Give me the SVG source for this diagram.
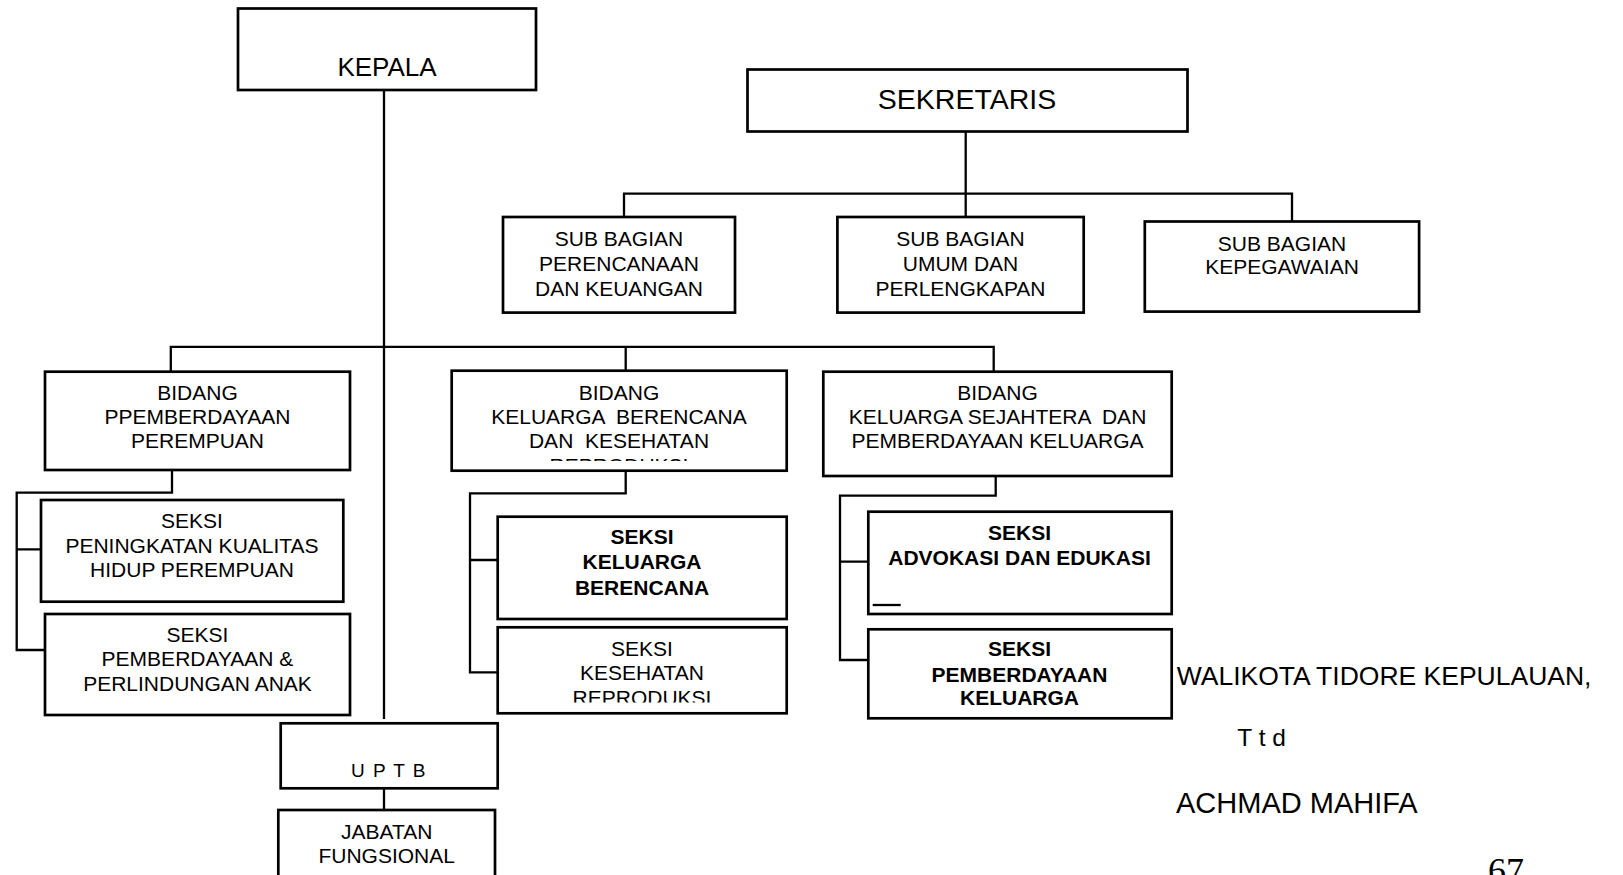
<svg xmlns="http://www.w3.org/2000/svg" width="1623" height="875" viewBox="0 0 1623 875">
<style>
  .box { fill: #fff; stroke: #000; stroke-width: 2.7; }
  .ln { fill: none; stroke: #000; stroke-width: 2.3; }
  text { font-family: "Liberation Sans", Arial, sans-serif; fill: #000; }
  .t21 { font-size: 21px; text-anchor: middle; }
  .b21 { font-size: 21px; font-weight: bold; text-anchor: middle; }
  text.serif { font-family: "Liberation Serif", "Times New Roman", serif; }
</style>
<defs>
  <clipPath id="clipB2"><rect x="452" y="371" width="334" height="90"/></clipPath>
  <clipPath id="clipKR"><rect x="498" y="628" width="288" height="74.5"/></clipPath>
</defs>
<rect width="1623" height="875" fill="#fff"/>

<g id="connectors">
  <path class="ln" d="M384 90 V719"/>
  <path class="ln" d="M965.7 131.5 V217 M624 217 V193.6 H1292 V221.5"/>
  <path class="ln" d="M170.8 371.7 V346.8 H993.7 V371.7 M625.7 346.8 V370.7"/>
  <path class="ln" d="M172 470 V492.7 H16.7 V650 H45 M16.7 549.3 H45"/>
  <path class="ln" d="M625.7 470.7 V493.3 H470 V672.3 H498 M470 560 H498"/>
  <path class="ln" d="M995.7 476 V495.7 H840 V660 H868 M840 561.7 H868"/>
  <path class="ln" d="M384 788 V810"/>
</g>

<g id="kepala">
  <rect class="box" x="238" y="8.5" width="298" height="81.5"/>
  <text x="387" y="75.6" font-size="26" text-anchor="middle">KEPALA</text>
</g>

<g id="sekretaris">
  <rect class="box" x="747.5" y="69.5" width="440" height="62"/>
  <text x="967" y="108.7" font-size="28.5" text-anchor="middle">SEKRETARIS</text>
</g>

<g id="sub-perencanaan">
  <rect class="box" x="503" y="217" width="232" height="95.6"/>
  <text class="t21" x="619" y="246.4">SUB BAGIAN</text>
  <text class="t21" x="619" y="271.2">PERENCANAAN</text>
  <text class="t21" x="619" y="296">DAN KEUANGAN</text>
</g>

<g id="sub-umum">
  <rect class="box" x="837.4" y="217" width="246.3" height="95.6"/>
  <text class="t21" x="960.5" y="246.4">SUB BAGIAN</text>
  <text class="t21" x="960.5" y="271.2">UMUM DAN</text>
  <text class="t21" x="960.5" y="296">PERLENGKAPAN</text>
</g>

<g id="sub-kepegawaian">
  <rect class="box" x="1144.8" y="221.5" width="274.3" height="90.1"/>
  <text class="t21" x="1282" y="250.5">SUB BAGIAN</text>
  <text class="t21" x="1282" y="274.3">KEPEGAWAIAN</text>
</g>

<g id="bidang-pp">
  <rect class="box" x="45" y="371.7" width="305" height="98.3"/>
  <text class="t21" x="197.5" y="400">BIDANG</text>
  <text class="t21" x="197.5" y="424.3">PPEMBERDAYAAN</text>
  <text class="t21" x="197.5" y="448.3">PEREMPUAN</text>
</g>

<g id="bidang-kb">
  <rect class="box" x="451.7" y="370.7" width="335" height="100"/>
  <g clip-path="url(#clipB2)">
    <text class="t21" x="619" y="400">BIDANG</text>
    <text class="t21" x="619" y="424.3" xml:space="preserve">KELUARGA  BERENCANA</text>
    <text class="t21" x="619" y="448.3" xml:space="preserve">DAN  KESEHATAN</text>
    <text class="t21" x="619" y="472.5">REPRODUKSI</text>
  </g>
</g>

<g id="bidang-ks">
  <rect class="box" x="823.3" y="371.7" width="348.4" height="104.3"/>
  <text class="t21" x="997.5" y="400">BIDANG</text>
  <text class="t21" x="997.5" y="424.3" xml:space="preserve">KELUARGA SEJAHTERA  DAN</text>
  <text class="t21" x="997.5" y="448.3">PEMBERDAYAAN KELUARGA</text>
</g>

<g id="seksi-pkhp">
  <rect class="box" x="41" y="500" width="302.3" height="101.7"/>
  <text class="t21" x="192" y="528.3">SEKSI</text>
  <text class="t21" x="192" y="553.3">PENINGKATAN KUALITAS</text>
  <text class="t21" x="192" y="577.3">HIDUP PEREMPUAN</text>
</g>

<g id="seksi-ppa">
  <rect class="box" x="45" y="614" width="305" height="101"/>
  <text class="t21" x="197.5" y="641.7">SEKSI</text>
  <text class="t21" x="197.5" y="666">PEMBERDAYAAN &amp;</text>
  <text class="t21" x="197.5" y="691">PERLINDUNGAN ANAK</text>
</g>

<g id="seksi-kb">
  <rect class="box" x="497.7" y="516.7" width="289" height="102.3"/>
  <text class="b21" x="642" y="544">SEKSI</text>
  <text class="b21" x="642" y="569.3">KELUARGA</text>
  <text class="b21" x="642" y="595">BERENCANA</text>
</g>

<g id="seksi-kr">
  <rect class="box" x="497.7" y="627.3" width="289" height="86"/>
  <g clip-path="url(#clipKR)">
    <text class="t21" x="642" y="656">SEKSI</text>
    <text class="t21" x="642" y="680">KESEHATAN</text>
    <text class="t21" x="642" y="705">REPRODUKSI</text>
  </g>
</g>

<g id="seksi-advokasi">
  <rect class="box" x="868.3" y="511.7" width="303.4" height="102.3"/>
  <text class="b21" x="1019.5" y="540">SEKSI</text>
  <text class="b21" x="1019.5" y="565">ADVOKASI DAN EDUKASI</text>
  <path class="ln" d="M872.7 605 H900.7"/>
</g>

<g id="seksi-pk">
  <rect class="box" x="868.3" y="629.3" width="303.4" height="89"/>
  <text class="b21" x="1019.5" y="656">SEKSI</text>
  <text class="b21" x="1019.5" y="681.7">PEMBERDAYAAN</text>
  <text class="b21" x="1019.5" y="705">KELUARGA</text>
</g>

<g id="uptb">
  <rect class="box" x="280.7" y="723.3" width="217" height="65"/>
  <text x="389" y="776.7" font-size="19" text-anchor="middle" letter-spacing="1.5">U P T B</text>
</g>

<g id="jabatan">
  <rect class="box" x="278.3" y="810" width="216.7" height="80"/>
  <text class="t21" x="386.7" y="839.3">JABATAN</text>
  <text class="t21" x="386.7" y="863.3">FUNGSIONAL</text>
</g>

<g id="signature">
  <text x="1176.7" y="685" font-size="26.5">WALIKOTA TIDORE KEPULAUAN,</text>
  <text x="1237.3" y="746" font-size="24.5">T t d</text>
  <text x="1176" y="813.3" font-size="29">ACHMAD MAHIFA</text>
  <text class="serif" x="1488" y="883" font-size="36">67</text>
</g>
</svg>
